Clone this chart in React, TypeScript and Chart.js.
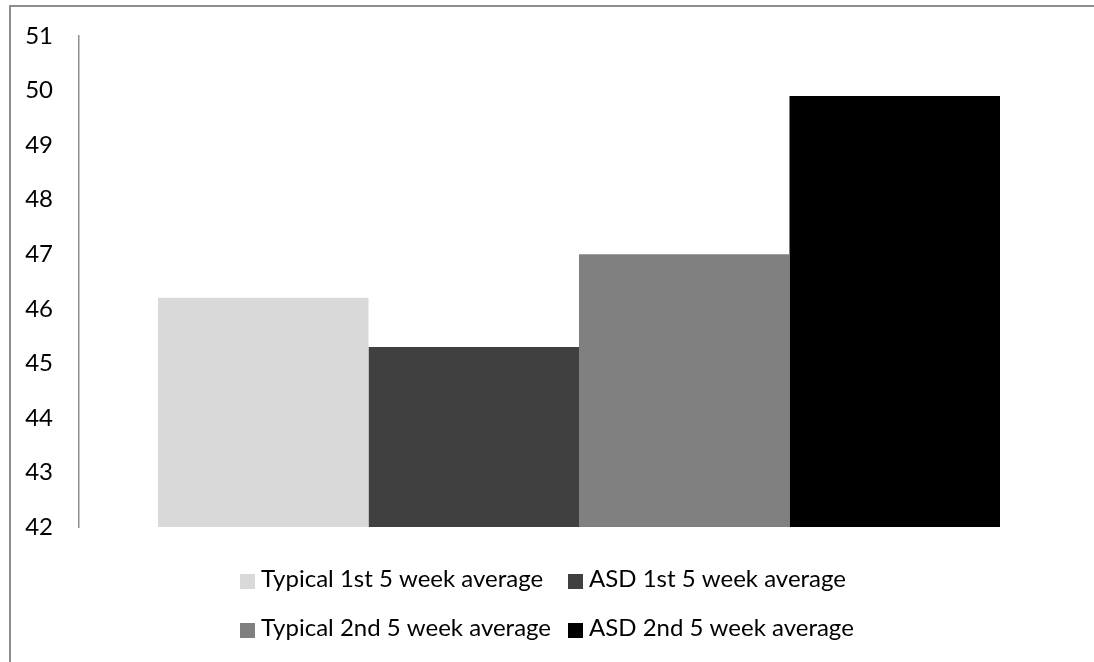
import React, { useEffect, useRef } from 'react';
import { Chart, registerables } from 'chart.js';

Chart.register(...registerables);

// Data
const categories = [''];
const seriesLabels = [
  'Typical 1st 5 week average',
  'ASD 1st 5 week average',
  'Typical 2nd 5 week average',
  'ASD 2nd 5 week average',
];
const typical1st = [46.2];
const asd1st = [45.3];
const typical2nd = [47.0];
const asd2nd = [49.9];
const seriesColors = ['#d9d9d9', '#404040', '#808080', '#000000'];
const yMin = 42;
const yMax = 51;
const yStep = 1;

const FONT_FAMILY = 'Lato, "Open Sans", sans-serif';
const FONT_SIZE = 24;

// Outer frame around the whole chart
const framePlugin = {
  id: 'frame',
  beforeDraw(chart: any) {
    const ctx = chart.ctx;
    ctx.save();
    ctx.strokeStyle = '#8e8e8e';
    ctx.lineWidth = 2;
    ctx.strokeRect(10, 6, chart.width + 40, chart.height + 40);
    ctx.restore();
  },
};

// Two-column legend below the plot
const gridLegendPlugin = {
  id: 'gridLegend',
  afterDraw(chart: any) {
    const ctx = chart.ctx;
    const colX = [240, 568];
    const firstBaseline = chart.chartArea.bottom + 60;
    const rowGap = 49;
    const box = 15;
    ctx.save();
    ctx.font = `${FONT_SIZE}px ${FONT_FAMILY}`;
    ctx.textBaseline = 'alphabetic';
    ctx.textAlign = 'left';
    chart.data.datasets.forEach((ds: any, i: number) => {
      const col = i % 2;
      const row = Math.floor(i / 2);
      const x = colX[col];
      const baseY = firstBaseline + row * rowGap;
      ctx.fillStyle = ds.backgroundColor;
      ctx.fillRect(x, baseY - 13, box, box);
      ctx.fillStyle = '#000000';
      ctx.fillText(ds.label, x + 21, baseY);
    });
    ctx.restore();
  },
};

export default function App() {
  const canvasRef = useRef<HTMLCanvasElement | null>(null);

  useEffect(() => {
    if (!canvasRef.current) return;
    const values = [typical1st, asd1st, typical2nd, asd2nd];
    const chart = new Chart(canvasRef.current, {
      type: 'bar',
      data: {
        labels: categories,
        datasets: seriesLabels.map((label, i) => ({
          label,
          data: values[i],
          backgroundColor: seriesColors[i],
          borderWidth: 0,
          categoryPercentage: 0.842,
          barPercentage: 1,
        })),
      },
      options: {
        animation: false,
        responsive: true,
        maintainAspectRatio: false,
        layout: {
          padding: { left: 0, top: 36, right: 15, bottom: 135 },
        },
        plugins: {
          legend: { display: false },
          tooltip: { enabled: false },
        },
        scales: {
          x: {
            display: false,
            grid: { display: false },
          },
          y: {
            min: yMin,
            max: yMax,
            grid: { display: false, drawTicks: false },
            border: { display: true, color: '#8e8e8e', width: 1.5 },
            ticks: {
              stepSize: yStep,
              padding: 26,
              color: '#000000',
              font: { family: FONT_FAMILY, size: FONT_SIZE },
            },
            afterFit(scale: any) {
              scale.width = 79;
              // keep the outer layout padding in charge of the plot's top/bottom
              scale.paddingTop = 0;
              scale.paddingBottom = 0;
            },
          },
        },
      },
      plugins: [framePlugin, gridLegendPlugin],
    });
    return () => chart.destroy();
  }, []);

  return (
    <div style={{ position: 'absolute', left: 0, top: 0, width: 1094, height: 662, background: '#ffffff' }}>
      <canvas ref={canvasRef} />
    </div>
  );
}
